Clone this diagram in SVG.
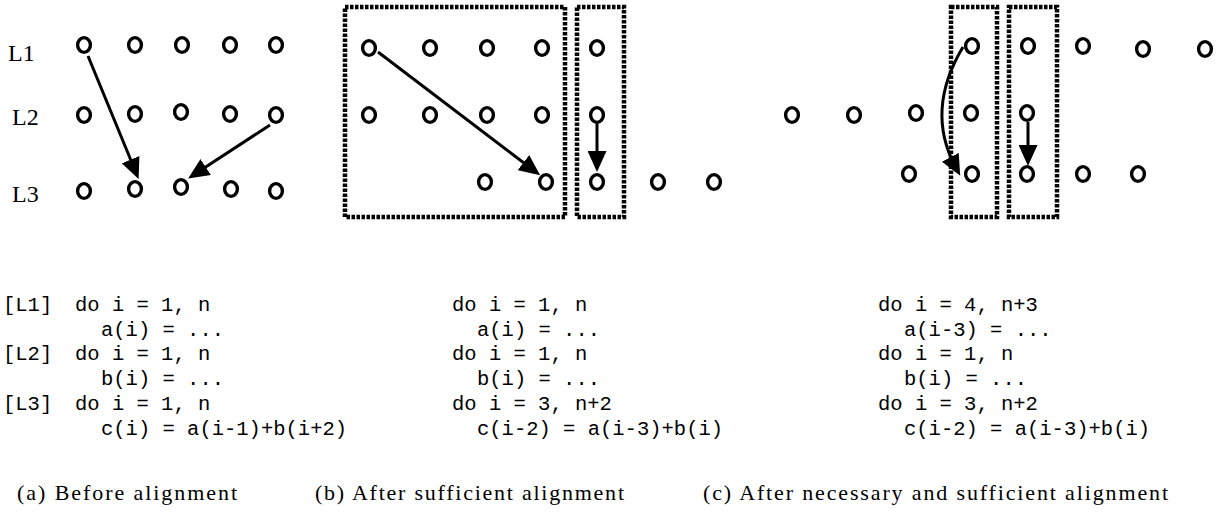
<svg xmlns="http://www.w3.org/2000/svg" width="1220" height="518" viewBox="0 0 1220 518">
<style>
.n{fill:none;stroke:#000;stroke-width:3.4}
.box{fill:none;stroke:#000;stroke-width:4.5;stroke-dasharray:3.5 1.5}
.e{fill:none;stroke:#000;stroke-width:3;marker-end:url(#ah)}
.lab{font-family:"Liberation Serif",serif;font-size:24px;fill:#000}
.code{font-family:"Liberation Mono",monospace;font-size:20.5px;fill:#000}
.cap{font-family:"Liberation Serif",serif;font-size:22px;fill:#000}
</style>
<defs>
<marker id="ah" viewBox="0 0 21 19" refX="11" refY="9.5" markerWidth="21" markerHeight="19" markerUnits="userSpaceOnUse" orient="auto">
<path d="M0,0 L21,9.5 L0,19 z" fill="#000"/>
</marker>
</defs>
<rect width="1220" height="518" fill="#fff"/>
<g id="labels">
<text class="lab" x="8" y="61">L1</text>
<text class="lab" x="12" y="125">L2</text>
<text class="lab" x="12" y="202">L3</text>
</g>
<g id="panel-a">
<g id="a-L1"><ellipse class="n" cx="84" cy="45" rx="6.4" ry="7.4"/><ellipse class="n" cx="135" cy="45" rx="6.4" ry="7.4"/><ellipse class="n" cx="182" cy="45" rx="6.4" ry="7.4"/><ellipse class="n" cx="230" cy="45" rx="6.4" ry="7.4"/><ellipse class="n" cx="276" cy="45" rx="6.4" ry="7.4"/></g>
<g id="a-L2"><ellipse class="n" cx="84" cy="115" rx="6.4" ry="7.4"/><ellipse class="n" cx="135" cy="114" rx="6.4" ry="7.4"/><ellipse class="n" cx="181" cy="112" rx="6.4" ry="7.4"/><ellipse class="n" cx="230" cy="114" rx="6.4" ry="7.4"/><ellipse class="n" cx="276" cy="115" rx="6.4" ry="7.4"/></g>
<g id="a-L3"><ellipse class="n" cx="84" cy="191" rx="6.4" ry="7.4"/><ellipse class="n" cx="135" cy="189" rx="6.4" ry="7.4"/><ellipse class="n" cx="181" cy="187" rx="6.4" ry="7.4"/><ellipse class="n" cx="231" cy="189" rx="6.4" ry="7.4"/><ellipse class="n" cx="276" cy="191" rx="6.4" ry="7.4"/></g>
</g>
<g id="panel-b">
<rect id="b-box1" class="box" x="345" y="7" width="220" height="210"/>
<rect id="b-box2" class="box" x="577" y="7" width="47" height="210"/>
<g id="b-L1"><ellipse class="n" cx="369" cy="48" rx="6.4" ry="7.4"/><ellipse class="n" cx="430" cy="48" rx="6.4" ry="7.4"/><ellipse class="n" cx="487" cy="48" rx="6.4" ry="7.4"/><ellipse class="n" cx="542" cy="48" rx="6.4" ry="7.4"/><ellipse class="n" cx="597" cy="48" rx="6.4" ry="7.4"/></g>
<g id="b-L2"><ellipse class="n" cx="369" cy="115" rx="6.4" ry="7.4"/><ellipse class="n" cx="430" cy="115" rx="6.4" ry="7.4"/><ellipse class="n" cx="487" cy="115" rx="6.4" ry="7.4"/><ellipse class="n" cx="542" cy="115" rx="6.4" ry="7.4"/><ellipse class="n" cx="597" cy="115" rx="6.4" ry="7.4"/></g>
<g id="b-L3"><ellipse class="n" cx="485" cy="182" rx="6.4" ry="7.4"/><ellipse class="n" cx="546" cy="182" rx="6.4" ry="7.4"/><ellipse class="n" cx="597" cy="182" rx="6.4" ry="7.4"/><ellipse class="n" cx="658" cy="182" rx="6.4" ry="7.4"/><ellipse class="n" cx="714" cy="182" rx="6.4" ry="7.4"/></g>
</g>
<g id="panel-c">
<rect id="c-box1" class="box" x="951" y="7" width="46" height="210"/>
<rect id="c-box2" class="box" x="1009" y="7" width="48" height="210"/>
<g id="c-L1"><ellipse class="n" cx="972" cy="46" rx="6.4" ry="7.4"/><ellipse class="n" cx="1028" cy="46" rx="6.4" ry="7.4"/><ellipse class="n" cx="1083" cy="46" rx="6.4" ry="7.4"/><ellipse class="n" cx="1143" cy="49" rx="6.4" ry="7.4"/><ellipse class="n" cx="1205" cy="49" rx="6.4" ry="7.4"/></g>
<g id="c-L2"><ellipse class="n" cx="792" cy="115" rx="6.4" ry="7.4"/><ellipse class="n" cx="854" cy="115" rx="6.4" ry="7.4"/><ellipse class="n" cx="916" cy="113" rx="6.4" ry="7.4"/><ellipse class="n" cx="971" cy="113" rx="6.4" ry="7.4"/><ellipse class="n" cx="1027" cy="113" rx="6.4" ry="7.4"/></g>
<g id="c-L3"><ellipse class="n" cx="909" cy="174" rx="6.4" ry="7.4"/><ellipse class="n" cx="972" cy="174" rx="6.4" ry="7.4"/><ellipse class="n" cx="1027" cy="174" rx="6.4" ry="7.4"/><ellipse class="n" cx="1083" cy="174" rx="6.4" ry="7.4"/><ellipse class="n" cx="1138" cy="174" rx="6.4" ry="7.4"/></g>
</g>
<g id="connectors">
<path class="e" d="M88,56 L134.8,169.8"/>
<path class="e" d="M270,125 L196.5,173"/>
<path class="e" d="M378,52 L532.2,169.3"/>
<path class="e" d="M597,123 L597,162"/>
<path class="e" d="M963,47 Q925,110 955.5,167"/>
<path class="e" d="M1028,122 L1028,156"/>
</g>
<g id="code-a" class="code">
<text x="3" y="311">[L1]</text><text x="75" y="311">do i = 1, n</text>
<text x="101" y="335.5">a(i) = ...</text>
<text x="3" y="360">[L2]</text><text x="75" y="360">do i = 1, n</text>
<text x="101" y="385">b(i) = ...</text>
<text x="3" y="410">[L3]</text><text x="75" y="410">do i = 1, n</text>
<text x="101" y="434.5">c(i) = a(i-1)+b(i+2)</text>
</g>
<g id="code-b" class="code">
<text x="452" y="311">do i = 1, n</text>
<text x="477" y="335.5">a(i) = ...</text>
<text x="452" y="360">do i = 1, n</text>
<text x="477" y="385">b(i) = ...</text>
<text x="452" y="410">do i = 3, n+2</text>
<text x="477" y="434.5">c(i-2) = a(i-3)+b(i)</text>
</g>
<g id="code-c" class="code">
<text x="878" y="311">do i = 4, n+3</text>
<text x="904" y="335.5">a(i-3) = ...</text>
<text x="878" y="360">do i = 1, n</text>
<text x="904" y="385">b(i) = ...</text>
<text x="878" y="410">do i = 3, n+2</text>
<text x="904" y="434.5">c(i-2) = a(i-3)+b(i)</text>
</g>
<g id="captions" class="cap">
<text x="17" y="500" textLength="220" lengthAdjust="spacing">(a) Before alignment</text>
<text x="315" y="500" textLength="309" lengthAdjust="spacing">(b) After sufficient alignment</text>
<text x="703" y="500" textLength="465" lengthAdjust="spacing">(c) After necessary and sufficient alignment</text>
</g>
</svg>
